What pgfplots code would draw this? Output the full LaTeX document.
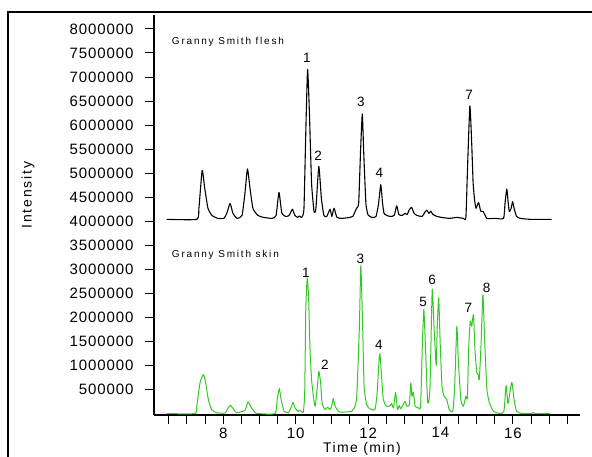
\documentclass[border=0pt]{standalone}
\usepackage{fontspec}
\setmainfont{Liberation Sans}
\usepackage{pgfplots}
\pgfplotsset{compat=1.18}

\definecolor{skin}{RGB}{52,200,36}
\newcommand{\tickfont}{\fontsize{15}{18}\selectfont\addfontfeature{LetterSpace=6}}
\newcommand{\pk}{\fontsize{13.5}{16}\selectfont}
\newcommand{\tagfont}{\fontsize{10}{12}\selectfont\addfontfeature{LetterSpace=18}}

\begin{document}
\begin{tikzpicture}
\begin{axis}[
  scale only axis,
  width=426pt, height=400pt,
  xmin=6.09, xmax=17.85, ymin=-30000, ymax=8290000,
  axis x line*=bottom, axis y line*=left,
  axis line style={black, line width=1.1pt},
  tick align=outside,
  major tick length=9pt, minor tick length=9pt,
  every tick/.style={black, line width=1pt},
  xtick={8,10,12,14,16},
  minor xtick={6.5,7,...,17.5},
  ytick={500000,1000000,1500000,2000000,2500000,3000000,3500000,4000000,
         4500000,5000000,5500000,6000000,6500000,7000000,7500000,8000000},
  scaled y ticks=false,
  yticklabel style={/pgf/number format/fixed, /pgf/number format/1000 sep={}, xshift=-8pt},
  tick label style={font=\tickfont},
  /pgf/number format/assume math mode=true,
  clip=false,
]
% Granny Smith flesh (offset trace)
\addplot[black, line width=1.1pt, smooth, tension=0.3, line join=round] coordinates {
(6.44,4040000) (7.27,4040000) (7.33,4270000) (7.42,5060000) (7.49,4690000)
(7.58,4270000) (7.69,4120000) (7.85,4060000) (8.02,4060000) (8.10,4165000)
(8.19,4370000) (8.27,4165000) (8.38,4060000) (8.52,4120000) (8.60,4580000)
(8.67,5090000) (8.74,4690000) (8.82,4270000) (8.96,4120000) (9.12,4080000)
(9.35,4060000) (9.46,4120000) (9.54,4600000) (9.62,4165000) (9.73,4100000)
(9.82,4120000) (9.91,4250000) (9.98,4120000) (10.06,4080000) (10.10,4110000)
(10.17,4080000) (10.23,4270000) (10.28,5840000) (10.33,7160000) (10.38,6260000)
(10.44,4790000) (10.51,4190000) (10.56,4270000) (10.64,5140000) (10.71,4480000)
(10.78,4120000) (10.86,4100000) (10.95,4250000) (11.00,4100000) (11.06,4270000)
(11.14,4080000) (11.28,4060000) (11.50,4080000) (11.58,4100000) (11.68,4270000)
(11.74,4370000) (11.79,5420000) (11.84,6230000) (11.88,5420000) (11.94,4370000)
(12.00,4130000) (12.11,4080000) (12.22,4100000) (12.29,4370000) (12.35,4760000)
(12.40,4370000) (12.44,4165000) (12.52,4120000) (12.61,4100000) (12.72,4120000)
(12.79,4320000) (12.85,4140000) (12.94,4120000) (13.02,4165000) (13.08,4140000)
(13.13,4230000) (13.20,4290000) (13.27,4165000) (13.35,4120000) (13.49,4100000)
(13.57,4190000) (13.62,4230000) (13.68,4165000) (13.73,4210000) (13.79,4140000)
(13.90,4100000) (14.03,4080000) (14.25,4060000) (14.45,4080000) (14.63,4060000)
(14.70,4080000) (14.75,5210000) (14.81,6400000) (14.86,5630000) (14.90,4790000)
(14.94,4440000) (14.98,4270000) (15.05,4390000) (15.11,4210000) (15.18,4200000)
(15.28,4060000) (15.51,4060000) (15.74,4060000) (15.78,4370000) (15.83,4670000)
(15.87,4370000) (15.90,4200000) (15.95,4270000) (15.99,4410000) (16.03,4270000)
(16.10,4100000) (16.20,4060000) (16.47,4040000) (17.07,4040000)
};
% Granny Smith skin
\addplot[skin, line width=1pt, smooth, tension=0.3, line join=round] coordinates {
(6.44,0) (7.22,0) (7.27,152000) (7.36,639000) (7.45,811000) (7.51,672000)
(7.59,291000) (7.68,83000) (7.82,15000) (8.05,10000) (8.14,119000) (8.20,173000)
(8.28,98000) (8.37,15000) (8.60,69000) (8.69,243000) (8.78,119000) (8.92,6000)
(9.43,0) (9.49,291000) (9.55,520000) (9.60,291000) (9.68,48000) (9.80,15000)
(9.87,119000) (9.93,235000) (9.98,119000) (10.07,42000) (10.12,69000) (10.21,27000)
(10.25,431000) (10.28,2163000) (10.32,2823000) (10.36,2371000) (10.40,1263000)
(10.44,707000) (10.49,360000) (10.54,152000) (10.60,568000) (10.64,880000)
(10.69,639000) (10.73,223000) (10.81,83000) (10.88,131000) (10.95,83000)
(11.00,166000) (11.04,312000) (11.09,152000) (11.18,48000) (11.27,27000)
(11.41,35000) (11.55,48000) (11.64,152000) (11.69,395000) (11.76,1816000)
(11.80,3078000) (11.85,1816000) (11.89,568000) (11.96,187000) (12.05,98000)
(12.19,83000) (12.25,431000) (12.31,1192000) (12.33,1227000) (12.36,915000)
(12.42,291000) (12.51,152000) (12.60,160000) (12.65,208000) (12.70,119000)
(12.76,443000) (12.81,83000) (12.86,166000) (12.90,98000) (12.97,187000)
(13.02,256000) (13.07,152000) (13.14,187000) (13.18,639000) (13.21,360000)
(13.25,443000) (13.30,152000) (13.39,119000) (13.45,152000) (13.50,1471000)
(13.54,2163000) (13.59,1263000) (13.64,291000) (13.67,223000) (13.71,568000)
(13.77,2579000) (13.82,1816000) (13.88,998000) (13.91,1816000) (13.95,2407000)
(13.99,1471000) (14.04,568000) (14.10,360000) (14.17,291000) (14.24,83000)
(14.34,48000) (14.39,568000) (14.45,1816000) (14.49,1123000) (14.56,291000)
(14.63,152000) (14.70,360000) (14.74,327000) (14.78,1400000) (14.82,1920000)
(14.86,1816000) (14.91,2059000) (14.95,1331000) (15.00,847000) (15.04,811000)
(15.07,707000) (15.12,1471000) (15.17,2475000) (15.22,1471000) (15.28,499000)
(15.35,223000) (15.46,48000) (15.64,0) (15.75,48000) (15.81,582000) (15.86,208000)
(15.92,464000) (15.97,651000) (16.03,291000) (16.10,48000) (16.24,0) (16.52,0)
(16.56,20000) (16.60,0) (17.02,0)
};
% peak numbers, flesh
\node[font=\pk] at (axis cs:10.31,7400000) {1};
\node[font=\pk] at (axis cs:10.62,5360000) {2};
\node[font=\pk] at (axis cs:11.80,6480000) {3};
\node[font=\pk] at (axis cs:12.31,5000000) {4};
\node[font=\pk] at (axis cs:14.79,6630000) {7};
% peak numbers, skin
\node[font=\pk] at (axis cs:10.28,2920000) {1};
\node[font=\pk] at (axis cs:10.81,1010000) {2};
\node[font=\pk] at (axis cs:11.79,3220000) {3};
\node[font=\pk] at (axis cs:12.30,1430000) {4};
\node[font=\pk] at (axis cs:13.52,2320000) {5};
\node[font=\pk] at (axis cs:13.77,2780000) {6};
\node[font=\pk] at (axis cs:14.77,2200000) {7};
\node[font=\pk] at (axis cs:15.27,2610000) {8};
\node[font=\tagfont, anchor=west, inner sep=0pt] at (axis cs:6.58,7730000) {Granny Smith flesh};
\node[font=\tagfont, anchor=west, inner sep=0pt] at (axis cs:6.58,3290000) {Granny Smith skin};
\end{axis}
\node[rotate=90, font=\fontsize{14}{16}\selectfont\addfontfeature{LetterSpace=13}] at (-126pt,220pt) {Intensity};
\node[anchor=base, font=\fontsize{14}{16}\selectfont\addfontfeature{LetterSpace=10}] at (208pt,-38pt) {Time (min)};
\draw[line width=2pt] (-146pt,-60pt) -- (-146pt,403pt) -- (460pt,403pt);
\pgfresetboundingbox
\path[use as bounding box] (-154pt,-42pt) rectangle (438pt,415pt);
\end{tikzpicture}
\end{document}
